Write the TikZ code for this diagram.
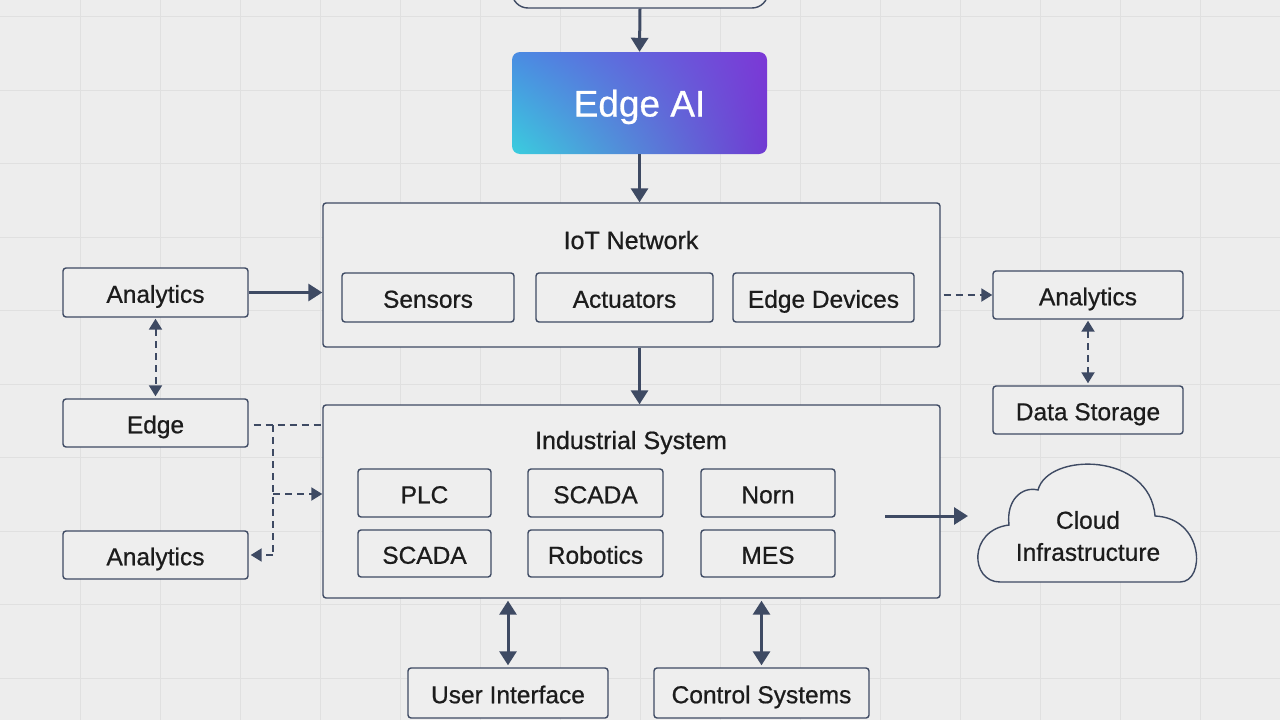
\documentclass[tikz,border=0pt]{standalone}
\usepackage{fontspec}
\setmainfont{Liberation Sans}[FakeBold=0.7]
\usetikzlibrary{arrows.meta,calc,shadings}
\definecolor{bg}{HTML}{EDEDED}
\definecolor{gridc}{HTML}{E0E0E0}
\definecolor{ln}{HTML}{3E4A63}
\definecolor{boxfill}{HTML}{EEEEEE}
\definecolor{txt}{HTML}{1C1C1C}
\definecolor{gul}{HTML}{4A8CE2}
\definecolor{gll}{HTML}{3ACEDE}
\definecolor{gur}{HTML}{7C38D6}
\definecolor{glr}{HTML}{703AD2}
\tikzset{
  box/.style={draw=ln, fill=boxfill, line width=1.4pt, rounded corners=3pt, inner sep=0pt,
    text=txt, font=\fontsize{24.5}{28}\selectfont, text height=20.5pt, text depth=0pt},
  bigbox/.style={draw=ln, fill=boxfill, line width=1.4pt, rounded corners=3pt, inner sep=0pt},
  title/.style={text=txt, font=\fontsize{25}{29}\selectfont, text height=18pt, text depth=0pt},
  solidarrow/.style={draw=ln, line width=3pt, -{Triangle[length=14pt,width=17pt]}},
  solidboth/.style={draw=ln, line width=3pt, {Triangle[length=14pt,width=17pt]}-{Triangle[length=14pt,width=17pt]}},
  dasharrow/.style={draw=ln, line width=2pt, dash pattern=on 7pt off 5pt, -{Triangle[length=11pt,width=13pt]}},
  dashboth/.style={draw=ln, line width=2pt, dash pattern=on 7pt off 5pt, {Triangle[length=11pt,width=13pt]}-{Triangle[length=11pt,width=13pt]}},
  dashline/.style={draw=ln, line width=2pt, dash pattern=on 7pt off 5pt},
}
\begin{document}
\begin{tikzpicture}[x=1pt,y=-1pt]
\useasboundingbox (0,0) rectangle (1280,720);
\clip (0,0) rectangle (1280,720);
\fill[bg] (0,0) rectangle (1280,720);
% grid
\foreach \gx in {80,160,...,1200} \draw[gridc, line width=1pt] (\gx,0) -- (\gx,720);
\foreach \gy in {16.5,90,163.5,237,310.5,384,457.5,531,604.5,678} \draw[gridc, line width=1pt] (0,\gy) -- (1280,\gy);

% top partial box
\node[bigbox, rounded corners=16pt, minimum width=256pt, minimum height=56pt] (top) at (640,-20) {};
% Edge AI
\node[rounded corners=8pt, minimum width=255pt, minimum height=102pt, inner sep=0pt,
  upper left=gul, lower left=gll, upper right=gur, lower right=glr,
  text=white, font=\fontsize{37}{40}\selectfont, text height=27pt, text depth=0pt] (edgeai) at (639.5,103) {Edge AI};

% IoT Network
\node[bigbox, minimum width=617pt, minimum height=144pt] (iot) at (631.5,275) {};
\node[title] (iottitle) at (631,240) {IoT Network};
\node[box, minimum width=172pt, minimum height=49pt] (sensors) at (428,297.5) {Sensors};
\node[box, minimum width=177pt, minimum height=49pt] (act) at (624.5,297.5) {Actuators};
\node[box, minimum width=181pt, minimum height=49pt] (edev) at (823.5,297.5) {Edge Devices};

% Industrial System
\node[bigbox, minimum width=617pt, minimum height=193pt] (ind) at (631.5,501.5) {};
\node[title] (indtitle) at (631,440) {Industrial System};
\node[box, minimum width=133pt, minimum height=48pt] (plc) at (424.5,493) {PLC};
\node[box, minimum width=135pt, minimum height=48pt] (scada1) at (595.5,493) {SCADA};
\node[box, minimum width=134pt, minimum height=48pt] (norn) at (768,493) {Norn};
\node[box, minimum width=133pt, minimum height=47pt] (scada2) at (424.5,553.5) {SCADA};
\node[box, minimum width=135pt, minimum height=47pt] (robot) at (595.5,553.5) {Robotics};
\node[box, minimum width=134pt, minimum height=47pt] (mes) at (768,553.5) {MES};

% left column
\node[box, minimum width=185pt, minimum height=49pt] (la) at (155.5,292.5) {Analytics};
\node[box, minimum width=185pt, minimum height=48pt] (edge) at (155.5,423) {Edge};
\node[box, minimum width=185pt, minimum height=48pt] (lb) at (155.5,555) {Analytics};

% right column
\node[box, minimum width=190pt, minimum height=48pt] (ra) at (1088,295) {Analytics};
\node[box, minimum width=190pt, minimum height=48pt] (ds) at (1088,410) {Data Storage};

% cloud
\draw[ln, line width=1.4pt, fill=boxfill]
  (1000,582) -- (1180,582)
  .. controls (1206,582) and (1204,518) .. (1155,516)
  .. controls (1150,452) and (1048,452) .. (1038,490)
  .. controls (1022,486) and (1006,500) .. (1009,525)
  .. controls (968,530) and (970,582) .. (1000,582) -- cycle;
\node[align=center, text=txt, font=\fontsize{24.5}{32}\selectfont] (cloud) at (1088,536) {Cloud\\Infrastructure};

% bottom
\node[box, minimum width=200pt, minimum height=50pt] (ui) at (508,693) {User Interface};
\node[box, minimum width=215pt, minimum height=50pt] (cs) at (761.5,693) {Control Systems};

% connectors
\draw[solidarrow] (top.south) -- (edgeai.north);
\draw[solidarrow] (edgeai.south) -- (edgeai.south |- iot.north);
\draw[solidarrow] (edgeai.south |- iot.south) -- (edgeai.south |- ind.north);
\draw[solidarrow] (la.east) -- (la.east -| iot.west);
\draw[dashboth, shorten <=1pt, shorten >=2pt] (la.south) -- (edge.north);
\draw[dasharrow] ($(iot.east |- ra.west)+(3,0)$) -- (ra.west);
\draw[dashboth, shorten <=1pt, shorten >=2pt] (ra.south) -- (ds.north);

\coordinate (j1) at (273,425);
\coordinate (j2) at (273,555);
\coordinate (j3) at (273,494);
\draw[dashline] ($(edge.east)+(5,2)$) -- (ind.west |- j1);
\draw[dashline] (j1) -- (j2);
\draw[dasharrow] (j2) -- ($(lb.east)+(2,0)$);
\draw[dasharrow] (j3) -- (ind.west |- j3);

\coordinate (indout) at (885,516);
\coordinate (cloudin) at (968,516);
\draw[solidarrow] (indout) -- (cloudin);

\draw[solidboth, shorten >=2pt] ($(ind.south -| ui.north)+(0,2)$) -- (ui.north);
\draw[solidboth, shorten >=2pt] ($(ind.south -| cs.north)+(0,2)$) -- (cs.north);
\end{tikzpicture}
\end{document}
